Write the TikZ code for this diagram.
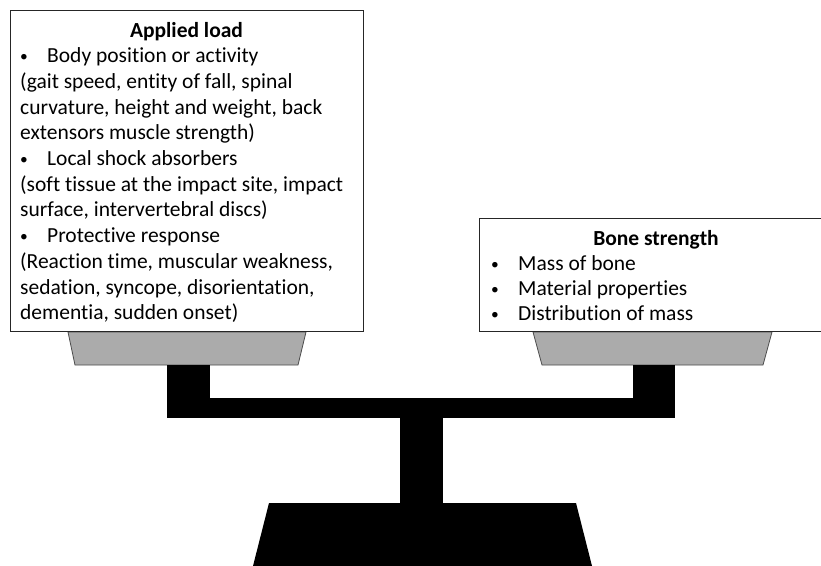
\documentclass[tikz,border=0pt]{standalone}
\usepackage{fontspec}
\usepackage{graphicx}
\setmainfont{Carlito}[Ligatures=NoCommon]
\begin{document}
\begin{tikzpicture}[x=1pt,y=-1pt,
  panel/.style={draw=black!85,line width=1.4pt,fill=white,inner sep=0pt},
  pantext/.style={anchor=base west,inner sep=0pt,font=\fontsize{21.5}{25.7}\selectfont},
  tray/.style={draw=black!70,line width=0.8pt,fill=black!33},
  solid/.style={fill=black,draw=none}]
\useasboundingbox (0,0) rectangle (821,565);

% pans of the balance
\draw[tray] (68,332) -- (306,332) -- (298,365) -- (75,365) -- cycle;
\draw[tray] (533,332) -- (772,332) -- (763,365) -- (542,365) -- cycle;

% beam, posts and foot
\fill[solid] (167,365) rectangle (210,399);
\fill[solid] (633,365) rectangle (675,399);
\fill[solid] (167,398) rectangle (675,418);
\fill[solid] (400,417) rectangle (443,504);
\fill[solid] (269,503) -- (576,503) -- (592,566) -- (253,566) -- cycle;

% left panel: applied load
\node[panel,anchor=north west,minimum width=353pt,minimum height=321pt] (load) at (10,10) {};
\newcommand{\bul}{\makebox[27pt][l]{\raisebox{1.2pt}{\scalebox{0.72}{\textbullet}}}}
\node[pantext,anchor=base] (loadtitle) at (186.5,37) {\textbf{Applied load}};
\foreach \t [count=\i] in {
  {\bul Body position or activity},
  {(gait speed, entity of fall, spinal},
  {curvature, height and weight, back},
  {extensors muscle strength)},
  {\bul Local shock absorbers},
  {(soft tissue at the impact site, impact},
  {surface, intervertebral discs)},
  {\bul Protective response},
  {(Reaction time, muscular weakness,},
  {sedation, syncope, disorientation,},
  {dementia, sudden onset)}}
  \node[pantext] (load\i) at (20,{37+25.7*\i}) {\t};

% right panel: bone strength
\node[panel,anchor=north west,minimum width=360pt,minimum height=113pt] (bone) at (479,218) {};
\node[pantext,anchor=base] (bonetitle) at (656,245) {\textbf{Bone strength}};
\foreach \t [count=\i] in {
  {\bul Mass of bone},
  {\bul Material properties},
  {\bul Distribution of mass}}
  \node[pantext] (bone\i) at (491,{245+25.3*\i}) {\t};
\end{tikzpicture}
\end{document}
